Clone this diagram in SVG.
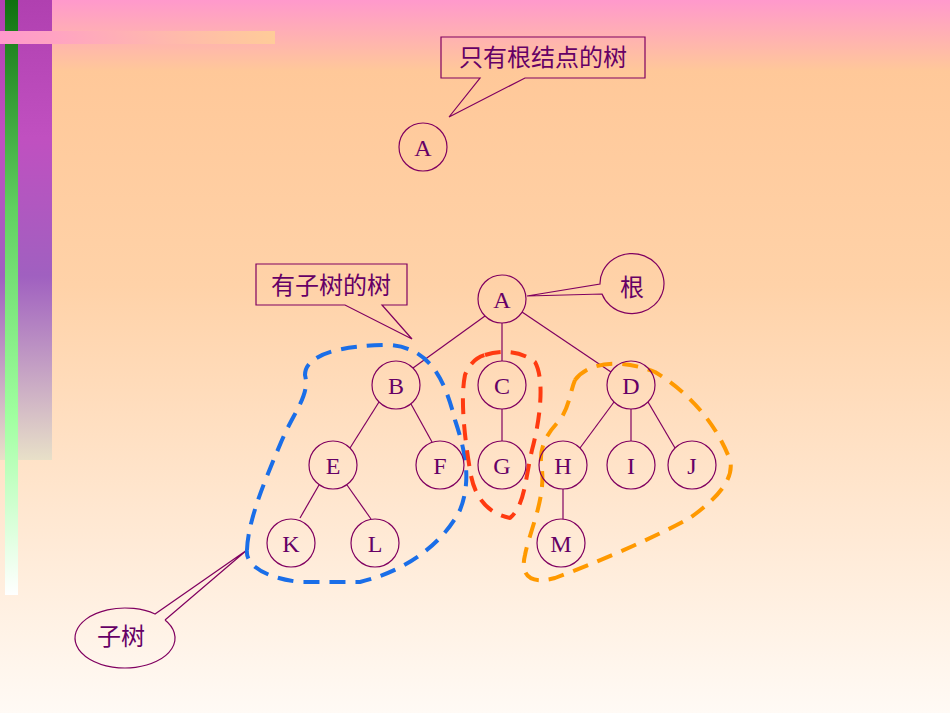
<svg xmlns="http://www.w3.org/2000/svg" width="950" height="713" viewBox="0 0 950 713">
<defs>
<linearGradient id="bg" x1="0" y1="0" x2="0" y2="1">
<stop offset="0" stop-color="#ff99cc"/><stop offset="0.1" stop-color="#ffc899"/><stop offset="0.4" stop-color="#ffd2a8"/><stop offset="1" stop-color="#fffaf5"/>
</linearGradient>
<linearGradient id="strip" x1="0" y1="0" x2="0" y2="1">
<stop offset="0" stop-color="#b040b0"/><stop offset="0.3" stop-color="#c050c0"/><stop offset="0.6" stop-color="#a060c0"/><stop offset="1" stop-color="#e8e0c8"/>
</linearGradient>
<linearGradient id="green" x1="0" y1="0" x2="0" y2="1">
<stop offset="0" stop-color="#107010"/><stop offset="0.35" stop-color="#60d060"/><stop offset="0.7" stop-color="#a0ffa0"/><stop offset="1" stop-color="#ffffff"/>
</linearGradient>
<linearGradient id="bar" x1="0" y1="0" x2="1" y2="0">
<stop offset="0" stop-color="#ff99cc"/><stop offset="1" stop-color="#ffcc99"/>
</linearGradient>
<style>
.n circle{fill:none;stroke:#800060;stroke-width:1.2}
.t{font-family:"Liberation Serif",serif;font-size:24px;fill:#660066;text-anchor:middle}
.c{font-family:"Liberation Sans","Noto Sans CJK SC",sans-serif;font-size:24px;fill:#660066;text-anchor:middle}
.e line{stroke:#800060;stroke-width:1.2}
.co{fill:none;stroke:#800060;stroke-width:1.2}
.d{fill:none;stroke-width:4;stroke-dasharray:16,10;stroke-linejoin:round}
</style>
</defs>
<rect width="950" height="713" fill="url(#bg)"/>
<rect x="0" y="0" width="52" height="460" fill="url(#strip)"/>
<rect x="5" y="0" width="13" height="595" fill="url(#green)"/>
<rect x="0" y="31" width="275" height="13" fill="url(#bar)"/>
<g id="connectors" class="e">
<line x1="485" y1="316" x2="413" y2="368"/>
<line x1="502" y1="323" x2="502" y2="361"/>
<line x1="522" y1="312" x2="611" y2="372"/>
<line x1="379" y1="402" x2="350" y2="448"/>
<line x1="411" y1="404" x2="432" y2="442"/>
<line x1="502" y1="409" x2="502" y2="441"/>
<line x1="614" y1="402" x2="580" y2="448"/>
<line x1="631" y1="409" x2="631" y2="441"/>
<line x1="648" y1="402" x2="675" y2="448"/>
<line x1="319" y1="485" x2="300" y2="518"/>
<line x1="347" y1="485" x2="371" y2="519"/>
<line x1="563" y1="489" x2="563" y2="519"/>
</g>
<g id="callout-top"><path class="co" d="M441,37 H645 V78 H525 L449,117 L480,78 H441 Z"/><text class="c" x="543" y="66">只有根结点的树</text></g>
<g id="callout-sub"><path class="co" d="M256,264 H407 V305 H382 L412,339 L345,305 H256 Z"/><text class="c" x="331" y="294">有子树的树</text></g>
<g id="root-label"><path class="co" d="M600,284 A32,30 0 1 1 602,294 L527,296 Z"/><text class="c" x="632" y="296">根</text></g>
<g id="subtree-label"><path class="co" d="M165,620 L247,550 L155,614 A50,30 0 1 0 165,620"/><text class="c" x="121" y="645">子树</text></g>
<g id="dashes">
<path class="d" stroke="#1a6ee8" d="M247,550 C248,520 265,480 282,440 C295,410 310,395 305,375 C305,355 340,345 390,345 C430,348 445,380 455,420 C465,450 472,480 460,510 C445,540 410,570 360,582 L300,582 C265,578 245,565 247,550"/>
<path class="d" stroke="#ff3a10" d="M485,355 C500,350 520,350 535,362 C545,380 540,420 532,450 C525,480 525,505 510,518 C495,515 475,505 470,470 C465,440 460,400 465,375 C470,362 478,357 485,355"/>
<path class="d" stroke="#ff9900" d="M575,380 C590,360 625,360 655,372 C685,390 715,420 730,460 C735,480 715,500 690,518 C650,540 590,565 555,578 C530,585 520,575 525,555 C530,530 545,500 542,470 C538,450 545,435 560,420 C570,405 570,392 575,380"/>
</g>
<g id="nA0" class="n"><circle cx="423" cy="147" r="24"/><text class="t" x="423" y="156">A</text></g>
<g id="nA" class="n"><circle cx="502" cy="299" r="24"/><text class="t" x="502" y="308">A</text></g>
<g id="nB" class="n"><circle cx="396" cy="385" r="24"/><text class="t" x="396" y="394">B</text></g>
<g id="nC" class="n"><circle cx="502" cy="385" r="24"/><text class="t" x="502" y="394">C</text></g>
<g id="nD" class="n"><circle cx="631" cy="385" r="24"/><text class="t" x="631" y="394">D</text></g>
<g id="nE" class="n"><circle cx="333" cy="465" r="24"/><text class="t" x="333" y="474">E</text></g>
<g id="nF" class="n"><circle cx="440" cy="465" r="24"/><text class="t" x="440" y="474">F</text></g>
<g id="nG" class="n"><circle cx="502" cy="465" r="24"/><text class="t" x="502" y="474">G</text></g>
<g id="nH" class="n"><circle cx="563" cy="465" r="24"/><text class="t" x="563" y="474">H</text></g>
<g id="nI" class="n"><circle cx="631" cy="465" r="24"/><text class="t" x="631" y="474">I</text></g>
<g id="nJ" class="n"><circle cx="692" cy="465" r="24"/><text class="t" x="692" y="474">J</text></g>
<g id="nK" class="n"><circle cx="291" cy="543" r="24"/><text class="t" x="291" y="552">K</text></g>
<g id="nL" class="n"><circle cx="375" cy="543" r="24"/><text class="t" x="375" y="552">L</text></g>
<g id="nM" class="n"><circle cx="561" cy="543" r="24"/><text class="t" x="561" y="552">M</text></g>
</svg>
